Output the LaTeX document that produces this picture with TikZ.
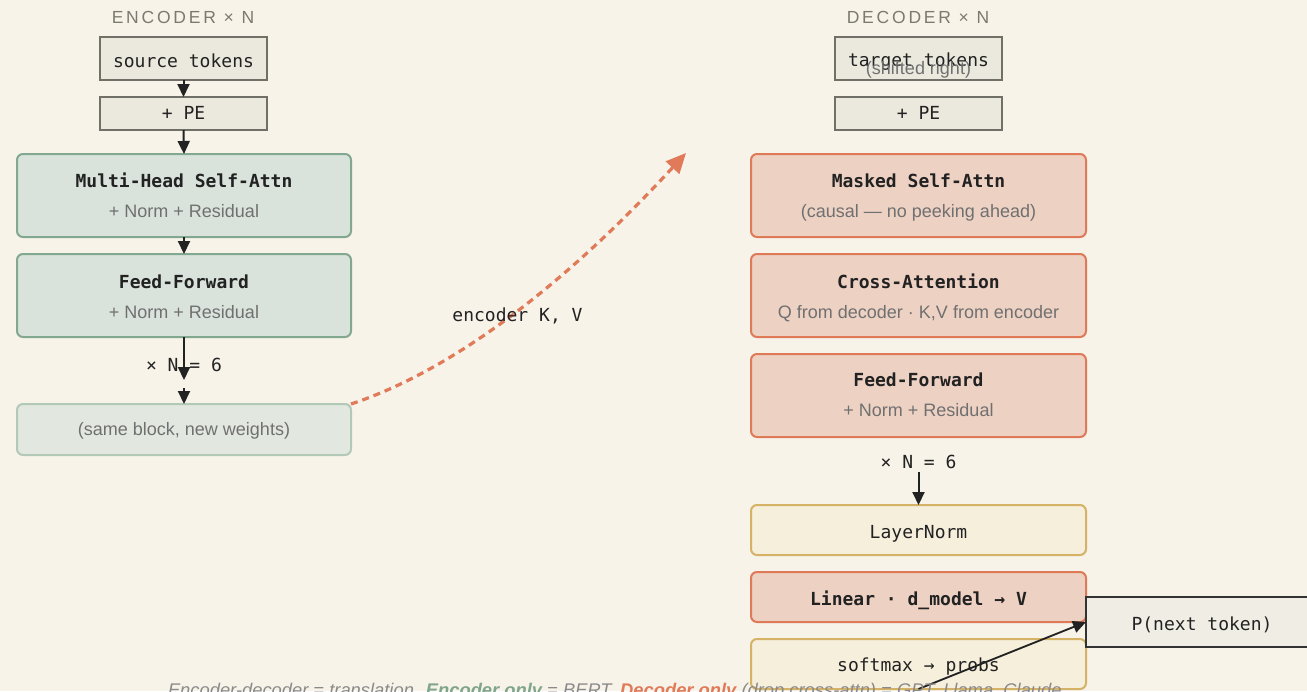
\documentclass[tikz,border=0pt]{standalone}
\usepackage{fontspec}
\setmainfont{Liberation Sans}
\setsansfont{Liberation Sans}
\setmonofont{DejaVu Sans Mono}
\usetikzlibrary{arrows.meta}

\definecolor{paper}{HTML}{F7F3E9}
\definecolor{neutralfill}{HTML}{EBE8DD}
\definecolor{neutralline}{HTML}{707068}
\definecolor{encfill}{HTML}{D9E3DC}
\definecolor{encline}{HTML}{82A88F}
\definecolor{encfadefill}{HTML}{E2E8E0}
\definecolor{encfadeline}{HTML}{B3C9B8}
\definecolor{decfill}{HTML}{EDD1C3}
\definecolor{decline}{HTML}{DF7A58}
\definecolor{headfill}{HTML}{F6EFDC}
\definecolor{headline}{HTML}{D6B266}
\definecolor{outfill}{HTML}{F0EDE4}
\definecolor{outline}{HTML}{333333}
\definecolor{ink}{HTML}{222222}
\definecolor{subgray}{HTML}{707070}
\definecolor{headgray}{HTML}{7A7A72}
\definecolor{capgray}{HTML}{8A8A8A}
\definecolor{encgreen}{HTML}{7FA58A}
\definecolor{decorange}{HTML}{E07A58}

\newcommand{\monotext}{\fontsize{18}{21}\selectfont\ttfamily}
\newcommand{\monobold}{\fontsize{18}{21}\selectfont\ttfamily\bfseries}
\newcommand{\subtext}{\fontsize{18}{21}\selectfont\sffamily}
\newcommand{\headtext}{\fontsize{17.5}{21}\selectfont\sffamily\addfontfeature{LetterSpace=16}}
\newcommand{\captext}{\fontsize{18.35}{21}\selectfont\sffamily\itshape}

\begin{document}
\begin{tikzpicture}[x=1pt,y=-1pt,
  every node/.style={inner sep=0pt, outer sep=0pt},
  tokbox/.style={draw=neutralline, fill=neutralfill, line width=1.5pt,
    minimum width=167pt},
  encbox/.style={draw=encline, fill=encfill, line width=2pt,
    rounded corners=6pt, minimum width=334pt},
  encfade/.style={draw=encfadeline, fill=encfadefill, line width=2pt,
    rounded corners=6pt, minimum width=334pt, minimum height=51pt},
  decbox/.style={draw=decline, fill=decfill, line width=2pt,
    rounded corners=6pt, minimum width=335pt},
  headbox/.style={draw=headline, fill=headfill, line width=2pt,
    rounded corners=6pt, minimum width=335pt, minimum height=50pt},
  outbox/.style={draw=outline, fill=outfill, line width=1.5pt,
    minimum width=232pt, minimum height=50pt},
  title/.style={anchor=base, font=\monobold, text=ink},
  sub/.style={anchor=base, font=\subtext, text=subgray},
  mono/.style={anchor=base, font=\monotext, text=ink},
  head/.style={anchor=base, font=\headtext, text=headgray},
  flow/.style={draw=ink, line width=2pt, -{Triangle[length=13pt,width=12pt]}},
  kvflow/.style={draw=decorange, line width=3.2pt, dash pattern=on 7pt off 5pt,
    -{Triangle[length=20pt,width=18pt]}}
]
\useasboundingbox (0,0) rectangle (1307,691);
\fill[paper] (0,0) rectangle (1307,691);

% ---------------- encoder column ----------------
\node[head] (enchead) at (183,23.3) {ENCODER × N};
\node[tokbox, minimum height=43pt] (src) at (183.5,58.5) {};
\node[mono] (srct) at (183.5,67) {source tokens};
\node[tokbox, minimum height=33pt] (encpe) at (183.5,113.5) {};
\node[mono] (encpet) at (183.5,119) {+ PE};

\node[encbox, minimum height=83pt] (mhsa) at (184,195.5) {};
\node[title] (mhsat) at (184,187) {Multi-Head Self-Attn};
\node[sub] (mhsas) at (184,217) {+ Norm + Residual};

\node[encbox, minimum height=83pt] (encff) at (184,295.5) {};
\node[title] (encfft) at (184,288.3) {Feed-Forward};
\node[sub] (encffs) at (184,318.3) {+ Norm + Residual};

\node[encfade] (same) at (184,429.5) {};
\node[sub] (samet) at (184,435) {(same block, new weights)};

\coordinate (reptip) at (184,380);
\coordinate (repstart) at (184,388);
\node[mono] (encrep) at (184,371.7) {× N = 6};

\draw[flow] (src.south) -- (encpe.north);
\draw[flow] (encpe.south) -- (mhsa.north);
\draw[flow] (mhsa.south) -- (encff.north);
\draw[flow] (encff.south) -- (reptip);
\draw[flow] (repstart) -- (same.north);

% ---------------- decoder column ----------------
\node[head] (dechead) at (918,23.3) {DECODER × N};
\node[tokbox, minimum height=43pt] (tgt) at (918.5,58.5) {};
\node[mono] (tgtt) at (918.5,66.7) {target tokens};
\node[sub] (tgts) at (918.5,74) {(shifted right)};
\node[tokbox, minimum height=33pt] (decpe) at (918.5,113.5) {};
\node[mono] (decpet) at (918.5,119) {+ PE};

\node[decbox, minimum height=83pt] (masked) at (918.5,195.5) {};
\node[title] (maskedt) at (918.5,187) {Masked Self-Attn};
\node[sub] (maskeds) at (918.5,217) {(causal — no peeking ahead)};

\node[decbox, minimum height=83pt] (cross) at (918.5,295.5) {};
\node[title] (crosst) at (918.5,288) {Cross-Attention};
\node[sub] (crosss) at (918.5,318) {Q from decoder · K,V from encoder};

\node[decbox, minimum height=83pt] (decff) at (918.5,395.5) {};
\node[title] (decfft) at (918.5,386.7) {Feed-Forward};
\node[sub] (decffs) at (918.5,416.7) {+ Norm + Residual};

\node[mono] (decrep) at (918.5,468) {× N = 6};
\coordinate (decrepstart) at (918.5,472);

\node[headbox] (ln) at (918.5,530) {};
\node[mono] (lnt) at (918.5,538.3) {LayerNorm};
\node[decbox, minimum height=50pt] (lin) at (918.5,597) {};
\node[title] (lint) at (918.5,605) {Linear · d\_model → V};
\node[headbox] (soft) at (918.5,664) {};
\node[mono] (softt) at (918.5,671.7) {softmax → probs};

\node[outbox] (pnext) at (1202,622) {};
\node[mono] (pnextt) at (1202,630) {P(next token)};

\draw[flow] (decrepstart) -- (ln.north);
\draw[flow, line width=1.8pt] (soft.south) -- (pnext.west);

% ---------------- encoder memory to decoder ----------------
\coordinate (kvtip) at (686,153);
\draw[kvflow] (same.north east) .. controls (450.3,371.3) and (562,287.7) .. (kvtip);
\node[mono] (kvlabel) at (517.5,321) {encoder K, V};

% ---------------- caption ----------------
\node[anchor=base west, font=\captext, text=capgray] (caption) at (168,696)
  {Encoder-decoder = translation. {\color{encgreen}\bfseries Encoder only} = BERT. {\color{decorange}\bfseries Decoder only} (drop cross-attn) = GPT, Llama, Claude.};
\end{tikzpicture}
\end{document}
